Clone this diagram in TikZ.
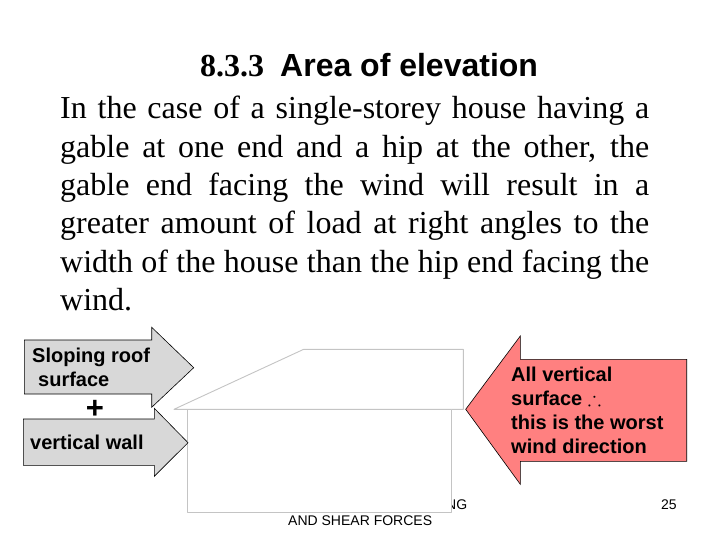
\documentclass[tikz,border=0pt]{standalone}
\usepackage{amssymb}
\usepackage{fontspec}
\setmainfont{Liberation Serif}
\setsansfont{Liberation Sans}
\definecolor{arrowgrey}{HTML}{D8D8D8}
\definecolor{arrowred}{HTML}{FF8080}
\definecolor{houseline}{HTML}{C4C4C4}
\tikzset{
windarrow/.style={draw=black, line width=.6pt, line join=miter},
houseedge/.style={draw=houseline, line width=.9pt, fill=white},
arrowtext/.style={font=\fontsize{20}{24}\selectfont\sffamily\bfseries, align=left, anchor=base west, inner sep=0pt},
footertext/.style={font=\fontsize{14}{16}\selectfont\sffamily, anchor=base west, inner sep=0pt}
}
\begin{document}
\begin{tikzpicture}
[x=1pt, y=-1pt, line join=round]
\useasboundingbox (0,0) rectangle (720,540);
% heading and paragraph
\node (heading) [anchor=base west, inner sep=0pt, font=\fontsize{32}{38}\selectfont] at (200,76.5)
{\textbf{8.3.3}\ \ \textsf{\bfseries Area of elevation}};
\node (para) [anchor=north west, inner sep=0pt, text width=589pt, align=justify,
font=\fontsize{32}{38.4}\selectfont] at (60,96)
{In the case of a single-storey house having a\linebreak
gable at one end and a hip at the other, the\linebreak
gable end facing the wind will result in a\linebreak
greater amount of load at right angles to the\linebreak
width of the house than the hip end facing the\linebreak
wind.};
% footer, the wall covers most of it
\node (footer) [footertext] at (446,509) {NG};
\node (footerb) [footertext] at (288,525) {AND SHEAR FORCES};
\node (page) [footertext] at (661,509) {25};
% house
\draw[houseedge] (174,409.3)--(303.7,349.3)--(463.3,349.3)--(463.3,409.3)--cycle;
\draw[houseedge] (187.3,409.3)--(451.7,409.3)--(451.7,512.3)--(187.3,512.3)--cycle;
% wind arrows
\draw[windarrow, fill=arrowgrey] (24.3,340)--(151.7,340)--(151.7,327.3)--(193.7,367.7)
--(151.7,407.3)--(151.7,394)--(24.3,394)--cycle;
\draw[windarrow, fill=arrowgrey] (23.3,419)--(154.3,419)--(154.3,408.3)--(188,442.7)
--(154.3,476.3)--(154.3,465.3)--(23.3,465.3)--cycle;
\draw[windarrow, fill=arrowred] (686.7,359.3)--(520.3,359.3)--(520.3,336)--(465.7,409.3)
--(520.3,484.3)--(520.3,461.3)--(686.7,461.3)--cycle;
% arrow labels
\node (roof) [arrowtext] at (32,362) {Sloping roof};
\node (surface) [arrowtext] at (38,386) {surface};
\node (plus) [font=\fontsize{31}{31}\selectfont\sffamily\bfseries, inner sep=0pt] at (95,409.5) {+};
\node (wall) [arrowtext] at (30,449) {vertical wall};
\foreach \y/\t/\n in {381/{All vertical}/one,405/{surface $\therefore$}/two,429/{this is the worst}/three,453/{wind direction}/four}
\node (worst\n) [arrowtext] at (511,\y) {\t};
\end{tikzpicture}
\end{document}
